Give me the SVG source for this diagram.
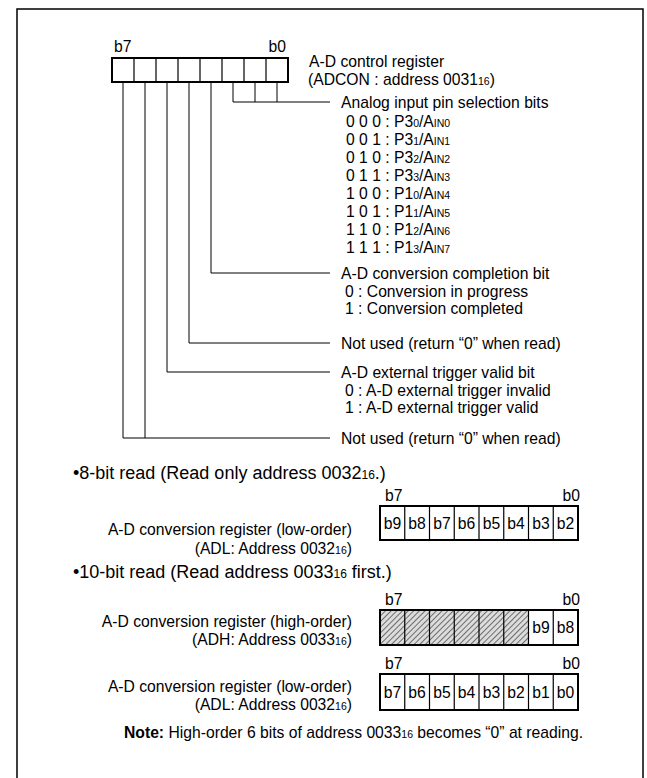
<svg xmlns="http://www.w3.org/2000/svg" width="647" height="778" viewBox="0 0 647 778">
<style>
.t{font-family:"Liberation Sans",Arial,sans-serif;font-size:15.7px;fill:#000}
.h{font-size:18px}
.s{font-size:10.5px}
.sh{font-size:12px}
.b{font-weight:bold}
.ln{stroke:#000;stroke-width:1;fill:none}
.ob{fill:#fff;stroke:#000;stroke-width:2}
.on{fill:none;stroke:#000;stroke-width:2}
.dv{stroke:#000;stroke-width:1.2}
.hat{fill:url(#hatch)}
</style>
<defs>
<pattern id="hatch" width="4" height="4" patternUnits="userSpaceOnUse" patternTransform="rotate(45)">
<rect width="4" height="4" fill="#dcdcdc"/>
<line x1="0" y1="0" x2="0" y2="4" stroke="#222" stroke-width="1.2"/>
</pattern>
</defs>
<rect id="frame" x="17" y="9" width="626" height="800" fill="none" stroke="#000" stroke-width="1.5"/>

<g id="reg-adcon">
<text class="t" x="114" y="52">b7</text>
<text class="t" x="286" y="52" text-anchor="end">b0</text>
<rect class="ob" x="112" y="58" width="176" height="24"/>
<path class="dv" d="M134 58V82M156 58V82M178 58V82M200 58V82M222 58V82M244 58V82M266 58V82"/>
<text class="t" x="309" y="67">A-D control register</text>
<text class="t" x="308" y="85">(ADCON : address 0031<tspan class="s">16</tspan>)</text>
</g>

<g id="connectors">
<path class="ln" d="M123 82V438H330M145 82V438M167 82V372H330M189 82V343H330M211 82V273H330M233 82V102H330M255 82V102M277 82V102"/>
</g>

<g id="bits-ain">
<text class="t" x="341" y="107.5">Analog input pin selection bits</text>
<text class="t" x="346" y="127">0 0 0 : P3<tspan class="s">0</tspan>/A<tspan class="s">IN0</tspan></text>
<text class="t" x="346" y="145">0 0 1 : P3<tspan class="s">1</tspan>/A<tspan class="s">IN1</tspan></text>
<text class="t" x="346" y="163">0 1 0 : P3<tspan class="s">2</tspan>/A<tspan class="s">IN2</tspan></text>
<text class="t" x="346" y="181">0 1 1 : P3<tspan class="s">3</tspan>/A<tspan class="s">IN3</tspan></text>
<text class="t" x="346" y="199">1 0 0 : P1<tspan class="s">0</tspan>/A<tspan class="s">IN4</tspan></text>
<text class="t" x="346" y="217">1 0 1 : P1<tspan class="s">1</tspan>/A<tspan class="s">IN5</tspan></text>
<text class="t" x="346" y="235">1 1 0 : P1<tspan class="s">2</tspan>/A<tspan class="s">IN6</tspan></text>
<text class="t" x="346" y="253">1 1 1 : P1<tspan class="s">3</tspan>/A<tspan class="s">IN7</tspan></text>
</g>

<g id="bit-adf">
<text class="t" x="341" y="278.5">A-D conversion completion bit</text>
<text class="t" x="345" y="296.5">0 : Conversion in progress</text>
<text class="t" x="345" y="313.5">1 : Conversion completed</text>
</g>

<g id="bit4">
<text class="t" x="341" y="348.5">Not used (return “0” when read)</text>
</g>

<g id="bit-trg">
<text class="t" x="341" y="377.5">A-D external trigger valid bit</text>
<text class="t" x="345" y="395.5">0 : A-D external trigger invalid</text>
<text class="t" x="345" y="412.5">1 : A-D external trigger valid</text>
</g>

<g id="bit76">
<text class="t" x="341" y="443.5">Not used (return “0” when read)</text>
</g>

<g id="read8">
<text class="t h" x="73" y="479">•8-bit read (Read only address 0032<tspan class="sh">16</tspan>.)</text>
</g>

<g id="reg-adl8">
<text class="t" x="352" y="535" text-anchor="end">A-D conversion register (low-order)</text>
<text class="t" x="352" y="554" text-anchor="end">(ADL: Address 0032<tspan class="s">16</tspan>)</text>
<text class="t" x="385" y="501">b7</text>
<text class="t" x="580" y="501" text-anchor="end">b0</text>
<rect class="ob" x="380" y="506" width="198" height="34"/>
<path class="dv" d="M404.75 506V540M429.5 506V540M454.25 506V540M479 506V540M503.75 506V540M528.5 506V540M553.25 506V540"/>
<g class="t" text-anchor="middle">
<text x="392.4" y="528.5">b9</text><text x="417.1" y="528.5">b8</text><text x="441.9" y="528.5">b7</text><text x="466.6" y="528.5">b6</text><text x="491.4" y="528.5">b5</text><text x="516.1" y="528.5">b4</text><text x="540.9" y="528.5">b3</text><text x="565.6" y="528.5">b2</text>
</g>
</g>

<g id="read10">
<text class="t h" x="73" y="578">•10-bit read (Read address 0033<tspan class="sh">16</tspan> first.)</text>
</g>

<g id="reg-adh">
<text class="t" x="352" y="627" text-anchor="end">A-D conversion register (high-order)</text>
<text class="t" x="352" y="645" text-anchor="end">(ADH: Address 0033<tspan class="s">16</tspan>)</text>
<text class="t" x="385" y="605">b7</text>
<text class="t" x="580" y="605" text-anchor="end">b0</text>
<rect class="hat" x="380" y="610" width="148.5" height="35"/>
<rect class="on" x="380" y="610" width="198" height="35"/>
<path class="dv" d="M404.75 610V645M429.5 610V645M454.25 610V645M479 610V645M503.75 610V645M528.5 610V645M553.25 610V645"/>
<g class="t" text-anchor="middle">
<text x="540.9" y="633">b9</text><text x="565.6" y="633">b8</text>
</g>
</g>

<g id="reg-adl">
<text class="t" x="352" y="692" text-anchor="end">A-D conversion register (low-order)</text>
<text class="t" x="352" y="710" text-anchor="end">(ADL: Address 0032<tspan class="s">16</tspan>)</text>
<text class="t" x="385" y="669">b7</text>
<text class="t" x="580" y="669" text-anchor="end">b0</text>
<rect class="ob" x="380" y="674" width="198" height="36"/>
<path class="dv" d="M404.75 674V710M429.5 674V710M454.25 674V710M479 674V710M503.75 674V710M528.5 674V710M553.25 674V710"/>
<g class="t" text-anchor="middle">
<text x="392.4" y="697.5">b7</text><text x="417.1" y="697.5">b6</text><text x="441.9" y="697.5">b5</text><text x="466.6" y="697.5">b4</text><text x="491.4" y="697.5">b3</text><text x="516.1" y="697.5">b2</text><text x="540.9" y="697.5">b1</text><text x="565.6" y="697.5">b0</text>
</g>
</g>

<g id="note">
<text class="t" x="124" y="738"><tspan class="b">Note:</tspan> High-order 6 bits of address 0033<tspan class="s">16</tspan> becomes “0” at reading.</text>
</g>
</svg>
